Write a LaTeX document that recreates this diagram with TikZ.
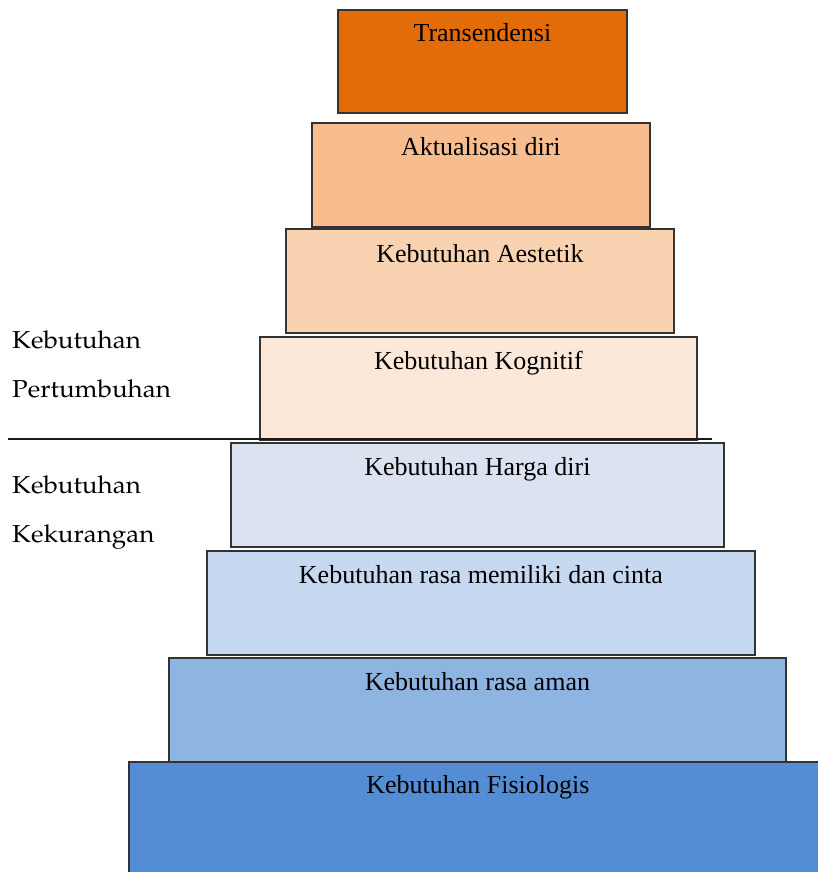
\documentclass[tikz,border=0pt]{standalone}
\usepackage[T1]{fontenc}
\usepackage{fontspec}
\setmainfont{Liberation Serif}
\usetikzlibrary{calc}

% Palatino for the side captions
\newcommand\sidefont{\fontencoding{T1}\fontfamily{ppl}\selectfont\fontsize{24.5}{30}\selectfont}

\definecolor{lvlA}{HTML}{E36C09}
\definecolor{lvlB}{HTML}{F8BD8F}
\definecolor{lvlC}{HTML}{F9D2B2}
\definecolor{lvlD}{HTML}{FCE8D9}
\definecolor{lvlE}{HTML}{DBE3F1}
\definecolor{lvlF}{HTML}{C6D9F0}
\definecolor{lvlG}{HTML}{8EB4E2}
\definecolor{lvlH}{HTML}{548DD4}

\tikzset{
  tier/.style={draw=black!80, line width=1.8pt, rectangle, inner sep=0pt, anchor=north west},
  tiertext/.style={anchor=base, inner sep=0pt, font=\fontsize{26}{31}\selectfont},
  sidetext/.style={anchor=base west, inner sep=0pt, font=\sidefont, xscale=1.06},
  divider/.style={line width=1.4pt, black!90}
}

\begin{document}
\begin{tikzpicture}[x=1pt, y=-1pt]
  \useasboundingbox (0,0) rectangle (818,872);

  % tiers of the hierarchy, top to bottom: corner (x,y), width, height
  \node[tier, fill=lvlA, minimum width=289pt, minimum height=103pt] (t1) at (337,9)   {};
  \node[tier, fill=lvlB, minimum width=338pt, minimum height=104pt] (t2) at (311,122) {};
  \node[tier, fill=lvlC, minimum width=388pt, minimum height=104pt] (t3) at (285,228) {};
  \node[tier, fill=lvlD, minimum width=437pt, minimum height=103pt] (t4) at (259,336) {};
  \node[tier, fill=lvlE, minimum width=493pt, minimum height=104pt] (t5) at (230,442) {};
  \node[tier, fill=lvlF, minimum width=548pt, minimum height=104pt] (t6) at (206,550) {};
  \node[tier, fill=lvlG, minimum width=617pt, minimum height=104pt] (t7) at (168,657) {};
  \node[tier, fill=lvlH, minimum width=698pt, minimum height=125pt] (t8) at (128,761) {};

  % tier captions, baseline about 33 below each top edge
  \path (t1.north) ++(0,33) node[tiertext] (c1) {Transendensi};
  \path (t2.north) ++(0,33) node[tiertext] (c2) {Aktualisasi diri};
  \path (t3.north) ++(0,34) node[tiertext] (c3) {Kebutuhan Aestetik};
  \path (t4.north) ++(0,33) node[tiertext] (c4) {Kebutuhan Kognitif};
  \path (t5.north) ++(0,33) node[tiertext] (c5) {Kebutuhan Harga diri};
  \path (t6.north) ++(0,33) node[tiertext] (c6) {Kebutuhan rasa memiliki dan cinta};
  \path (t7.north) ++(0,33) node[tiertext] (c7) {Kebutuhan rasa aman};
  \path (t8.north) ++(0,32) node[tiertext] (c8) {Kebutuhan Fisiologis};

  % divider between growth and deficiency needs
  \coordinate (dl) at (8,439);
  \coordinate (dr) at (712,439);
  \draw[divider] (dl) -- (dr);

  % side captions
  \node[sidetext] (s1) at (12,348) {Kebutuhan};
  \node[sidetext] (s2) at (12,397) {Pertumbuhan};
  \node[sidetext] (s3) at (12,493) {Kebutuhan};
  \node[sidetext] (s4) at (12,542) {Kekurangan};
\end{tikzpicture}
\end{document}
